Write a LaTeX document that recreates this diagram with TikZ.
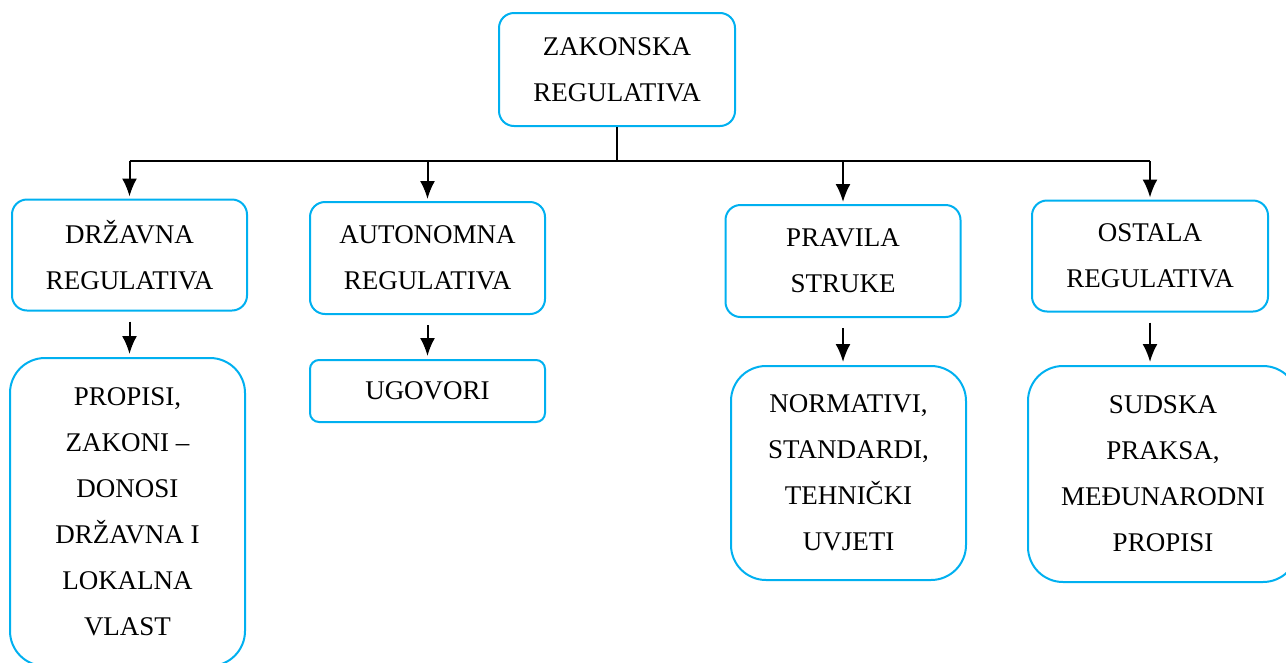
\documentclass[tikz,border=0pt]{standalone}
\usepackage{fontspec}
\setmainfont{Liberation Serif}
\usepackage{tikz}
\usetikzlibrary{arrows.meta, positioning}
\definecolor{BOX}{HTML}{00B0F0}
\tikzset{
  REG/.style={% Style for the upper boxes
      rectangle, rounded corners=15pt,
      line width=2pt,
      align=center,
      text=black,
      draw=BOX,
      font=\fontsize{27}{46}\selectfont,
      minimum width=235pt,
      minimum height=111pt,
  },
  SUB/.style={% Style for the lower boxes
      REG,
      rounded corners=35pt,
  },
  arr/.style={
    line width=2pt,
    -{Latex[length=18pt,width=15pt]},
  },
}

\begin{document}
\begin{tikzpicture}[x=1pt, y=-1pt]
    \useasboundingbox (0,0) rectangle (1286,662);
    % top of the tree
    \node[REG, minimum width=236pt, minimum height=113pt] (zak) at (617,69.5) {ZAKONSKA\\REGULATIVA};
    \coordinate (bus) at (617,161);
    % second row
    \node[REG] (drz) at (129.5,255) {DRŽAVNA\\REGULATIVA};
    \node[REG, minimum height=112pt] (auto) at (427.5,258) {AUTONOMNA\\REGULATIVA};
    \node[REG, minimum height=112pt] (prav) at (843,261) {PRAVILA\\STRUKE};
    \node[REG, minimum width=236pt] (ost) at (1150,256) {OSTALA\\REGULATIVA};
    % third row
    \node[SUB, minimum height=308pt] (prop) at (127.5,512) {PROPISI,\\ZAKONI --\\DONOSI\\DRŽAVNA I\\LOKALNA\\VLAST};
    \node[SUB, rounded corners=9pt, minimum height=62pt] (ugov) at (427.5,391) {UGOVORI};
    \node[SUB, minimum height=214pt] (norm) at (848.5,473) {NORMATIVI,\\STANDARDI,\\TEHNIČKI\\UVJETI};
    \node[SUB, minimum width=270pt, minimum height=216pt] (suds) at (1163,474) {SUDSKA\\PRAKSA,\\MEĐUNARODNI\\PROPISI};
    % connectors
    \draw[line width=2pt] (zak.south) -- (zak.south |- bus);
    \draw[line width=2pt] (drz.north |- bus) -- (ost.north |- bus);
    \foreach \n in {drz, auto, prav, ost} {
        \draw[arr, shorten >=2pt] (\n.north |- bus) -- (\n.north);
    }
    \foreach \a/\b in {drz/prop, auto/ugov, prav/norm, ost/suds} {
        \draw[arr, shorten <=10pt, shorten >=3pt] (\a.south) -- (\a.south |- \b.north);
    }
\end{tikzpicture}
\end{document}
